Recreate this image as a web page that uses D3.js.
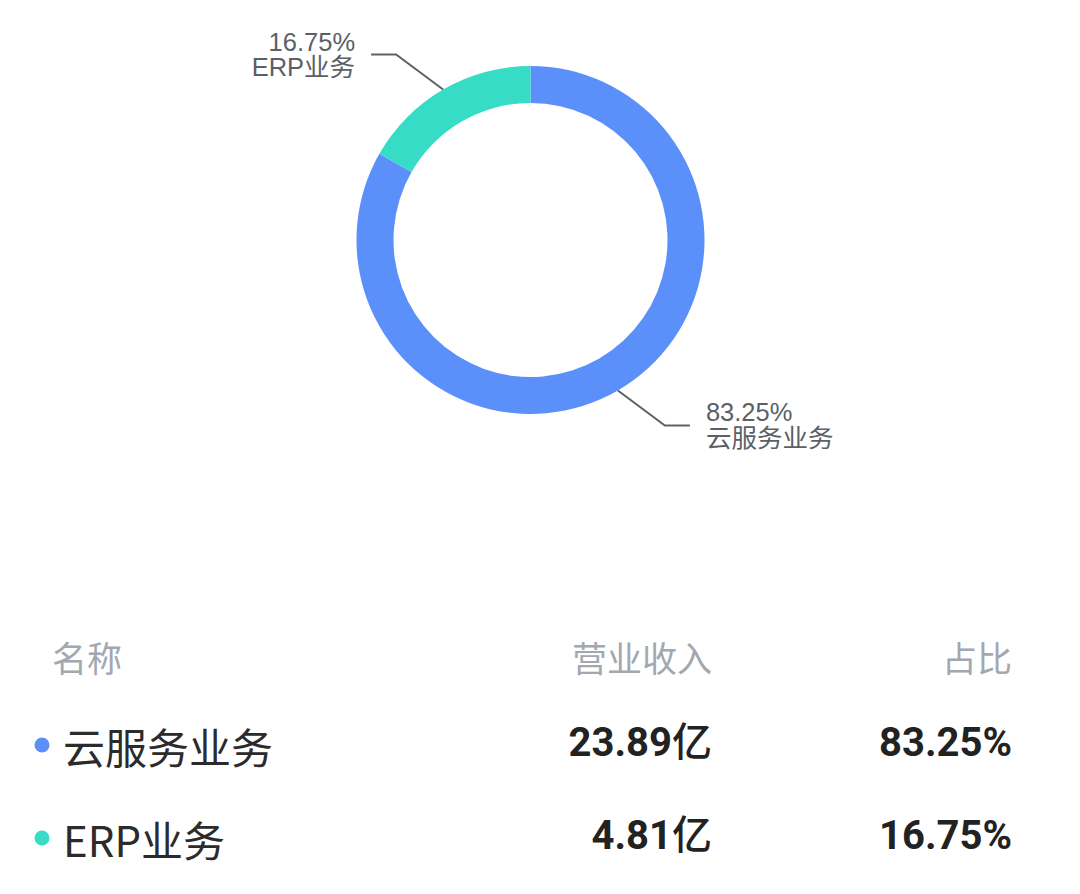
<!DOCTYPE html>
<html>
<head>
<meta charset="utf-8">
<script src="https://cdn.jsdelivr.net/npm/d3@7/dist/d3.min.js"></script>
<style>
  html, body { margin: 0; padding: 0; background: #ffffff; }
  svg { display: block; }
</style>
</head>
<body>
<svg id="chart" width="1080" height="894"></svg>
<script>
// ---- data ----
const categories = ["云服务业务", "ERP业务"];
const revenue = [23.89, 4.81];            // 亿
const share = [83.25, 16.75];             // %
const colors = ["#5B8FF9", "#36DCC6"];
const headers = ["名称", "营业收入", "占比"];

// ---- layout ----
const cx = 530.5, cy = 240;
const outerR = 174, innerR = 137;
const CJK = "'Noto Sans CJK SC', 'Noto Sans', sans-serif";
const LABEL = "'Liberation Sans', 'Noto Sans CJK SC', sans-serif";
const NUM = "Roboto, 'DejaVu Sans', sans-serif";

const svg = d3.select("#chart");
const data = categories.map((c, i) => ({ name: c, revenue: revenue[i], share: share[i], color: colors[i] }));

const pie = d3.pie().sort(null).value(d => d.share);
const arc = d3.arc().innerRadius(innerR).outerRadius(outerR);
const arcs = pie(data);

const g = svg.append("g").attr("transform", `translate(${cx},${cy})`);
g.selectAll("path.slice")
  .data(arcs)
  .enter().append("path")
  .attr("class", "slice")
  .attr("d", arc)
  .attr("fill", d => d.data.color);

// label lines
const elbowDX = 47, elbowDY = 35, tailLen = 25, textGap = 16;
arcs.forEach(a => {
  const mid = (a.startAngle + a.endAngle) / 2;
  const x1 = Math.sin(mid) * outerR, y1 = -Math.cos(mid) * outerR;
  const sx = x1 >= 0 ? 1 : -1, sy = y1 >= 0 ? 1 : -1;
  const x2 = x1 + sx * elbowDX, y2 = y1 + sy * elbowDY;
  const x3 = x2 + sx * tailLen;
  g.append("path")
    .attr("d", d3.line()([[x1, y1], [x2, y2], [x3, y2]]))
    .attr("fill", "none")
    .attr("stroke", "#5f6166")
    .attr("stroke-width", 2);
  const tx = x3 + sx * textGap;
  const anchor = sx > 0 ? "start" : "end";
  g.append("text")
    .attr("x", tx).attr("y", y2 - 4)
    .attr("text-anchor", anchor)
    .attr("font-family", LABEL).attr("font-size", 25.5).attr("fill", "#5c5f66")
    .text(a.data.share.toFixed(2) + "%");
  g.append("text")
    .attr("x", tx).attr("y", y2 + 21.5)
    .attr("text-anchor", anchor)
    .attr("font-family", LABEL).attr("font-size", 25.5).attr("fill", "#5c5f66")
    .text(a.data.name);
});

// ---- table ----
const colNameX = 52, colRevX = 712, colShareX = 1012;
const headerY = 656;
const rowY = d3.scalePoint().domain(categories).range([745, 838]);

const hdr = svg.append("g").attr("font-family", CJK).attr("font-size", 35).attr("fill", "#a2a7b0");
hdr.append("text").attr("x", colNameX).attr("y", headerY).attr("dominant-baseline", "central").text(headers[0]);
hdr.append("text").attr("x", colRevX).attr("y", headerY).attr("text-anchor", "end").attr("dominant-baseline", "central").text(headers[1]);
hdr.append("text").attr("x", colShareX).attr("y", headerY).attr("text-anchor", "end").attr("dominant-baseline", "central").text(headers[2]);

const rows = svg.selectAll("g.row").data(data).enter().append("g").attr("class", "row")
  .attr("transform", d => `translate(0,${rowY(d.name)})`);
rows.append("circle").attr("cx", 42).attr("cy", 0).attr("r", 7.5).attr("fill", d => d.color);
rows.append("text").attr("x", 63).attr("y", 0).attr("dominant-baseline", "central")
  .attr("font-family", CJK).attr("font-size", 42).attr("fill", "#2b2b2b").text(d => d.name);
const rev = rows.append("text").attr("x", colRevX).attr("y", 11).attr("text-anchor", "end")
  .attr("fill", "#222");
rev.append("tspan").attr("font-family", NUM).attr("font-weight", "bold").attr("font-size", 40)
  .text(d => d.revenue.toFixed(2));
rev.append("tspan").attr("font-family", CJK).attr("font-weight", 500).attr("font-size", 40).text("亿");
rows.append("text").attr("x", colShareX).attr("y", 11).attr("text-anchor", "end")
  .attr("font-family", NUM).attr("font-weight", "bold").attr("font-size", 40)
  .attr("fill", "#222").text(d => d.share.toFixed(2) + "%");
</script>
</body>
</html>
